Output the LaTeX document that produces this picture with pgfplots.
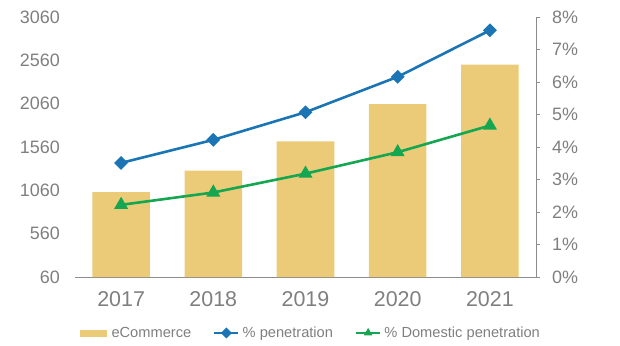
\documentclass[border=0pt]{standalone}
\usepackage{fontspec}
\setmainfont{Liberation Sans}
\usepackage{pgfplots}
\pgfplotsset{compat=1.18}
\definecolor{barc}{HTML}{EBCB78}
\definecolor{bluec}{HTML}{1B75B5}
\definecolor{greenc}{HTML}{14A650}
\definecolor{txt}{HTML}{7F7F7F}
\definecolor{axc}{HTML}{8C8C8C}
\pgfplotsset{
  barleg/.style={legend image code/.code={\fill[barc] (0bp,-3bp) rectangle (26bp,3bp); \path (29bp,0bp);}},
  lineleg/.style={legend image code/.code={\draw[##1, line width=2.2bp, mark size=2.8bp, mark repeat=2, mark phase=2] plot coordinates {(0bp,0bp) (12bp,0bp) (24bp,0bp)}; \path (25bp,0bp);}},
}
\begin{document}
\begin{tikzpicture}
\path[use as bounding box] (-75bp,-69bp) rectangle (545bp,277bp);
\begin{axis}[
  at={(0,0)}, anchor=south west,
  scale only axis, width=461bp, height=260bp,
  xmin=-0.5, xmax=4.5, ymin=60, ymax=3060,
  axis lines*=left,
  y axis line style={draw=none},
  x axis line style={draw=axc, line width=0.8bp},
  xtick={0,1,2,3,4},
  xticklabels={2017,2018,2019,2020,2021},
  ytick={60,560,1060,1560,2060,2560,3060},
  yticklabels={60,560,1060,1560,2060,2560,3060},
  major tick length=0pt,
  xtick style={draw=none}, ytick style={draw=none},
  yticklabel style={font=\fontsize{18}{18}\selectfont, text=txt, inner sep=0pt, xshift=-15bp},
  xticklabel style={font=\fontsize{21.5}{22}\selectfont, text=txt, inner sep=0pt, yshift=-14bp},
  ybar, bar width=57.5bp,
  clip=false,
]
\addplot[fill=barc, draw=none] coordinates {(0,1040) (1,1287) (2,1626) (3,2056) (4,2510)};
\end{axis}
\begin{axis}[
  at={(0,0)}, anchor=south west,
  scale only axis, width=461bp, height=260bp,
  xmin=-0.5, xmax=4.5, ymin=0, ymax=8,
  axis y line*=right, hide x axis,
  y axis line style={draw=axc, line width=0.8bp},
  ytick={0,1,2,3,4,5,6,7,8},
  yticklabels={0\%,1\%,2\%,3\%,4\%,5\%,6\%,7\%,8\%},
  tick align=outside, major tick length=4bp,
  ytick style={draw=axc, line width=0.8bp},
  yticklabel style={font=\fontsize{18}{18}\selectfont, text=txt, inner sep=0pt, xshift=12bp},
  clip=false,
  legend columns=-1,
  legend style={at={(0.512,-0.215)}, anchor=center, draw=none, fill=none,
    font=\fontsize{14.7}{15}\selectfont, text=txt, inner sep=0pt,
    nodes={inner sep=2bp},
    /tikz/every even column/.append style={column sep=20bp}},
]
\addlegendimage{barleg}
\addlegendentry{eCommerce}
\addplot[bluec, line width=2.6bp, mark=square*, mark size=3.6bp,
  mark options={solid, fill=bluec, rotate=45}, lineleg]
  coordinates {(0,3.51) (1,4.22) (2,5.07) (3,6.16) (4,7.59)};
\addlegendentry{\% penetration}
\addplot[greenc, line width=2.6bp, mark=triangle*, mark size=5.5bp,
  mark options={solid, fill=greenc}, lineleg]
  coordinates {(0,2.22) (1,2.60) (2,3.18) (3,3.84) (4,4.66)};
\addlegendentry{\% Domestic penetration}
\end{axis}
\end{tikzpicture}
\end{document}
